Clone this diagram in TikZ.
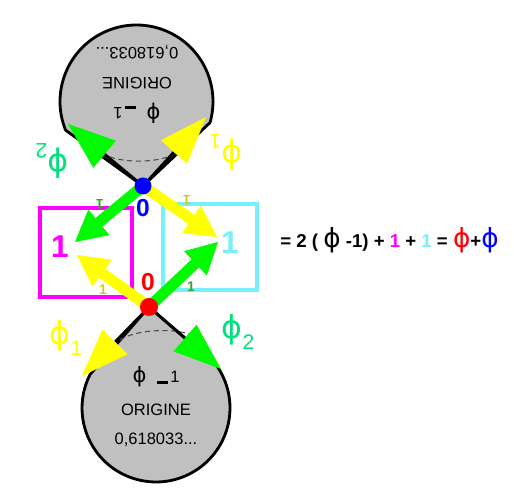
\documentclass[tikz,border=0pt]{standalone}
\usepackage{fontspec}
\setmainfont{Liberation Sans}
\newfontfamily\phifont{DejaVu Sans}
\usetikzlibrary{arrows.meta,calc}
\definecolor{blobgrey}{RGB}{192,192,192}
\definecolor{arrgreen}{RGB}{0,250,0}
\definecolor{arryellow}{RGB}{255,255,0}
\definecolor{phigreen}{RGB}{0,225,125}
\definecolor{boxmagenta}{RGB}{255,0,255}
\definecolor{boxcyan}{RGB}{120,240,250}
\definecolor{unitgreen}{RGB}{50,170,40}
\definecolor{unityellow}{RGB}{215,200,40}
\newcommand{\fy}{{\mdseries\phifont ϕ}}

\begin{document}
\begin{tikzpicture}[
    x=0.02cm, y=0.02cm,
    blob/.style={fill=blobgrey, draw=black, line width=1.6pt, line join=round},
    rim/.style={dashed, dash pattern=on 3pt off 2pt, line width=0.6pt, black!70},
    conetip/.style={line width=1.6pt, -{Triangle[length=0.95cm, width=0.7cm, line width=0.4pt, color=#1]}},
    bigarr/.style={draw=#1, line width=0.22cm, -{Triangle[length=0.62cm, width=0.66cm, line width=0.4pt]}},
    dot/.style={circle, inner sep=0pt, minimum size=0.34cm},
    unitbox/.style={draw=#1, line width=1.8pt, inner sep=0pt},
    bigone/.style={text=#1, font=\bfseries\fontsize{18}{18}\selectfont, inner sep=0pt},
    smallone/.style={text=#1, font=\bfseries\fontsize{8}{8}\selectfont, inner sep=0pt},
    zero/.style={text=#1, font=\bfseries\fontsize{14}{14}\selectfont, inner sep=0pt},
    philbl/.style={text=#1, font=\fontsize{18}{18}\selectfont, inner sep=0pt},
    orig/.style={font=\fontsize{9.4}{10}\selectfont, inner sep=0pt}
]
\useasboundingbox (0,0) rectangle (514,493);

% centres and dots
\coordinate (ctop) at (136.5,391.5);
\coordinate (cbot) at (156,85);
\coordinate (bc) at (143,307);
\coordinate (rc) at (149,186);

% the two origins
\filldraw[blob] (bc) -- ($(ctop)+(202:1.53cm)$) arc[start angle=202, end angle=-16, radius=1.53cm] -- cycle;
\filldraw[blob] (rc) -- ($(cbot)+(35:1.48cm)$) arc[start angle=35, end angle=-207, radius=1.48cm] -- cycle;
\draw[rim] (102,340) .. controls (118,329) and (162,329) .. (177,341);
\draw[rim] (120,153) .. controls (136,164) and (176,165) .. (192,158);

\coordinate (ttl) at (68,369);
\coordinate (ttr) at (206,376);
\coordinate (tbl) at (82,117);
\coordinate (tbr) at (221,124);
\draw[conetip=arrgreen] (bc) -- (ttl);
\draw[conetip=arryellow] (bc) -- (ttr);
\draw[conetip=arryellow] (rc) -- (tbl);
\draw[conetip=arrgreen] (rc) -- (tbr);

% texts in the origins
\node[orig] (botphi) at (156,116) {{\phifont\fontsize{12}{12}\selectfont ϕ}\hspace{6pt}\rule[-0.5pt]{6pt}{1.4pt}\,1};
\node[orig] (botname) at (156,83) {ORIGINE};
\node[orig] (botval) at (156,53) {0,618033...};
\node[orig, rotate=180] (topphi) at (137,380) {{\phifont\fontsize{12}{12}\selectfont ϕ}\hspace{6pt}\rule[-0.5pt]{6pt}{1.4pt}\,1};
\node[orig, rotate=180] (topname) at (137,410) {ORIGINE};
\node[orig, rotate=180] (topval) at (137,441) {0,618033...};

% unit boxes
\node[unitbox=boxmagenta, minimum width=1.84cm, minimum height=1.78cm] (mbox) at (86,240.5) {};
\node[unitbox=boxcyan, minimum width=1.88cm, minimum height=1.72cm] (cbox) at (210,246) {};
\node[bigone=boxmagenta] (mone) at (60,246) {1};
\node[bigone=boxcyan] (cone) at (230,250) {1};

\coordinate (mtop) at (75,251);
\coordinate (mbot) at (77,238);
\coordinate (ctopin) at (217,256);
\coordinate (cbotin) at (218,251);
\draw[bigarr=arrgreen] (bc) -- (mtop);
\draw[bigarr=arryellow] (bc) -- (ctopin);
\draw[bigarr=arryellow] (rc) -- (mbot);
\draw[bigarr=arrgreen] (rc) -- (cbotin);

\node[smallone=unitgreen, rotate=180] (ugt) at (100,289) {1};
\node[smallone=unityellow, rotate=180] (uyt) at (187,293) {1};
\node[smallone=unityellow] (uyb) at (103,203) {1};
\node[smallone=unitgreen] (ugb) at (191,206) {1};

\node[dot, fill=blue] (bdot) at (bc) {};
\node[dot, fill=red, minimum size=0.36cm] (rdot) at (rc) {};
\node[zero=blue] (bzero) at (143,285) {0};
\node[zero=red] (rzero) at (148,211) {0};

% phi labels
\node[philbl=phigreen, rotate=180] (tlphi) at (52,332) {\fy\raisebox{-6pt}{\fontsize{12}{12}\selectfont 2}};
\node[philbl=arryellow, rotate=180] (trphi) at (226,341) {\fy\raisebox{-6pt}{\fontsize{12}{12}\selectfont 1}};
\node[philbl=arryellow] (blphi) at (66,155) {\fy\raisebox{-6pt}{\fontsize{12}{12}\selectfont 1}};
\node[philbl=phigreen] (brphi) at (238,161) {\fy\raisebox{-6pt}{\fontsize{12}{12}\selectfont 2}};

% equation
\node[anchor=west, inner sep=0pt, font=\bfseries\fontsize{10.6}{12}\selectfont] (eq) at (280,253)
  {= 2 ( {\fontsize{15}{15}\selectfont\fy} -1) + \textcolor{boxmagenta}{1} + \textcolor{boxcyan}{1} = \textcolor{red}{\fontsize{15}{15}\selectfont\fy}+\textcolor{blue}{\fontsize{15}{15}\selectfont\fy}};
\end{tikzpicture}
\end{document}
